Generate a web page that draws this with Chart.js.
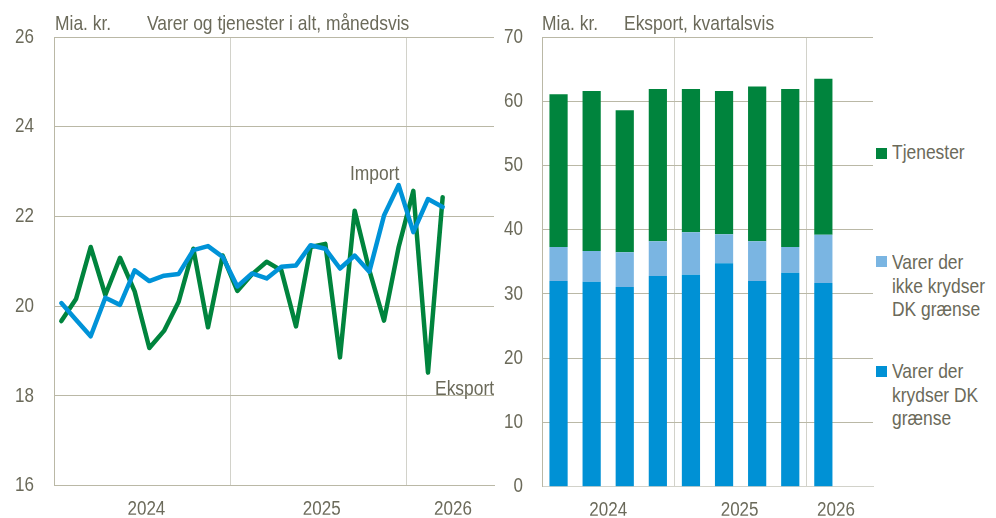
<!DOCTYPE html>
<html>
<head>
<meta charset="utf-8">
<script src="https://cdn.jsdelivr.net/npm/chart.js@4"></script>
<style>
  html, body { margin: 0; padding: 0; background: #fff; }
  body { width: 996px; height: 518px; position: relative; overflow: hidden; }
  .txt { position: absolute; font-family: "Liberation Sans", Arial, sans-serif; font-size: 21px; line-height: 24px; color: #6b6a5a; white-space: nowrap; transform: scaleX(0.83); transform-origin: 0 0; }
  .sq { position: absolute; width: 11px; height: 11px; }
  #leftWrap { position: absolute; left: 0; top: 0; width: 500px; height: 518px; }
  #rightWrap { position: absolute; left: 500px; top: 0; width: 376px; height: 518px; }
</style>
</head>
<body>
<div id="leftWrap"><canvas id="left" width="500" height="518"></canvas></div>
<div id="rightWrap"><canvas id="right" width="376" height="518"></canvas></div>

<div class="txt" style="left:55px; top:11px;">Mia. kr.</div>
<div class="txt" style="left:147px; top:11px;">Varer og tjenester i alt, månedsvis</div>
<div class="txt" style="left:542px; top:11px;">Mia. kr.</div>
<div class="txt" style="left:624px; top:11px;">Eksport, kvartalsvis</div>
<div class="txt" style="left:350px; top:161px;">Import</div>
<div class="txt" style="left:435px; top:376px;">Eksport</div>

<div class="sq" style="left:876px; top:148px; background:#00843d;"></div>
<div class="txt" style="left:892px; top:140px;">Tjenester</div>
<div class="sq" style="left:876px; top:256px; background:#7ab5e2;"></div>
<div class="txt" style="left:892px; top:250px; line-height:23.7px;">Varer der<br>ikke krydser<br>DK grænse</div>
<div class="sq" style="left:876px; top:366px; background:#0091d5;"></div>
<div class="txt" style="left:892px; top:359px; line-height:23.7px;">Varer der<br>krydser DK<br>grænse</div>

<script>
// ---------- Data: left chart (monthly, Jan 2024 - Jun 2026) ----------
const months = [
  'jan 2024','feb 2024','mar 2024','apr 2024','maj 2024','jun 2024','jul 2024','aug 2024','sep 2024','okt 2024','nov 2024','dec 2024',
  'jan 2025','feb 2025','mar 2025','apr 2025','maj 2025','jun 2025','jul 2025','aug 2025','sep 2025','okt 2025','nov 2025','dec 2025',
  'jan 2026','feb 2026','mar 2026','apr 2026','maj 2026','jun 2026'
];
const importValues = [20.07, 19.70, 19.33, 20.19, 20.03, 20.80, 20.56, 20.68, 20.72, 21.25, 21.34, 21.10,
                      20.44, 20.73, 20.62, 20.88, 20.91, 21.36, 21.28, 20.84, 21.13, 20.77, 22.02, 22.70,
                      21.65, 22.39, 22.21];
const eksportValues = [19.67, 20.16, 21.32, 20.25, 21.08, 20.33, 19.07, 19.45, 20.10, 21.28, 19.53, 21.13,
                       20.34, 20.71, 20.99, 20.80, 19.55, 21.32, 21.39, 18.86, 22.13, 20.80, 19.68, 21.32,
                       22.57, 18.52, 22.43];
const leftYearLabels = ['2024', '2025', '2026'];

// ---------- Data: right chart (quarterly, Q1 2024 - Q2 2026) ----------
const quarters = ['K1 2024','K2 2024','K3 2024','K4 2024','K1 2025','K2 2025','K3 2025','K4 2025','K1 2026','K2 2026'];
const varerKrydser = [32.0, 31.9, 31.1, 32.8, 33.0, 34.8, 32.0, 33.3, 31.7];
const varerIkkeKrydser = [5.3, 4.8, 5.4, 5.4, 6.6, 4.5, 6.2, 4.0, 7.5];
const tjenester = [23.8, 24.9, 22.1, 23.7, 22.3, 22.3, 24.1, 24.6, 24.3];
const rightYearLabels = ['2024', '2025', '2026'];

// ---------- Styling ----------
const TXT = '#6b6a5a';
const HGRID = '#bab8a6';
const VGRID = '#d2d2ca';
const FONT = { family: '"Liberation Sans", Arial, sans-serif', size: 20.5 };
Chart.defaults.font = FONT;
Chart.defaults.color = TXT;

// Narrow-looking text: compress canvas text horizontally around its anchor
function condense(canvas, f) {
  const ctx = canvas.getContext('2d');
  const orig = ctx.fillText;
  ctx.fillText = function (t, x, y) {
    this.save();
    this.translate(x, y);
    this.scale(f, 1);
    orig.call(this, t, 0, 0);
    this.restore();
  };
}

function labelAxis(positions, labels, max) {
  return {
    type: 'linear', position: 'bottom', min: 0, max: max, weight: 1, offset: false,
    grid: { display: false, drawTicks: false, offset: false },
    border: { display: false },
    afterBuildTicks: (s) => { s.ticks = positions.map(v => ({ value: v })); },
    afterFit: (s) => { s.height = 29; },
    ticks: {
      autoSkip: false, maxRotation: 0, padding: 11, color: TXT, font: FONT,
      callback: (v, i) => labels[i]
    }
  };
}

const leftCanvas = document.getElementById('left');
const rightCanvas = document.getElementById('right');
condense(leftCanvas, 0.83);
condense(rightCanvas, 0.83);

// ---------- Left chart ----------
new Chart(leftCanvas, {
  type: 'line',
  data: {
    labels: months,
    datasets: [
      { label: 'Import', data: importValues, borderColor: '#0093d8', borderWidth: 4.5,
        pointRadius: 0, tension: 0, borderJoinStyle: 'round', borderCapStyle: 'round', fill: false },
      { label: 'Eksport', data: eksportValues, borderColor: '#00843d', borderWidth: 4.5,
        pointRadius: 0, tension: 0, borderJoinStyle: 'round', borderCapStyle: 'round', fill: false }
    ]
  },
  options: {
    responsive: false, animation: false, devicePixelRatio: 1,
    layout: { padding: { top: 37, right: 6, left: 0, bottom: 0 } },
    plugins: { legend: { display: false }, tooltip: { enabled: false } },
    scales: {
      x: {
        type: 'category', offset: true, weight: 0,
        grid: { offset: true, drawTicks: false, lineWidth: 1,
                color: (c) => (c.index === 12 || c.index === 24) ? VGRID : 'rgba(0,0,0,0)' },
        border: { display: true, color: HGRID, width: 1 },
        ticks: { display: false },
        afterFit: (s) => { s.height = 0; }
      },
      xl: labelAxis([6.3, 18.25, 27.2], leftYearLabels, 30),
      y: {
        min: 16, max: 26,
        grid: { color: HGRID, drawTicks: false, lineWidth: 1 },
        border: { display: true, color: HGRID, width: 1 },
        afterFit: (s) => { s.width = 54; },
        ticks: { stepSize: 2, padding: 20, color: TXT, font: FONT }
      }
    }
  }
});

// ---------- Right chart ----------
new Chart(rightCanvas, {
  type: 'bar',
  data: {
    labels: quarters,
    datasets: [
      { label: 'Varer der krydser DK grænse', data: varerKrydser, backgroundColor: '#0091d5',
        borderWidth: 0, barPercentage: 0.55, categoryPercentage: 1 },
      { label: 'Varer der ikke krydser DK grænse', data: varerIkkeKrydser, backgroundColor: '#7ab5e2',
        borderWidth: 0, barPercentage: 0.55, categoryPercentage: 1 },
      { label: 'Tjenester', data: tjenester, backgroundColor: '#00843d',
        borderWidth: 0, barPercentage: 0.55, categoryPercentage: 1 }
    ]
  },
  options: {
    responsive: false, animation: false, devicePixelRatio: 1,
    layout: { padding: { top: 37, right: 3, left: 0, bottom: 0 } },
    plugins: { legend: { display: false }, tooltip: { enabled: false } },
    scales: {
      x: {
        type: 'category', stacked: true, offset: true, weight: 0,
        grid: { offset: true, drawTicks: false, lineWidth: 1,
                color: (c) => (c.index === 4 || c.index === 8) ? VGRID : 'rgba(0,0,0,0)' },
        border: { display: true, color: VGRID, width: 1 },
        ticks: { display: false },
        afterFit: (s) => { s.height = 0; }
      },
      xl: labelAxis([2, 5.97, 8.88], rightYearLabels, 10),
      y: {
        stacked: true, min: 0, max: 70,
        grid: { color: HGRID, drawTicks: false, lineWidth: 1 },
        border: { display: true, color: HGRID, width: 1 },
        afterFit: (s) => { s.width = 42; },
        ticks: { stepSize: 10, padding: 19, color: TXT, font: FONT }
      }
    }
  }
});
</script>
</body>
</html>
